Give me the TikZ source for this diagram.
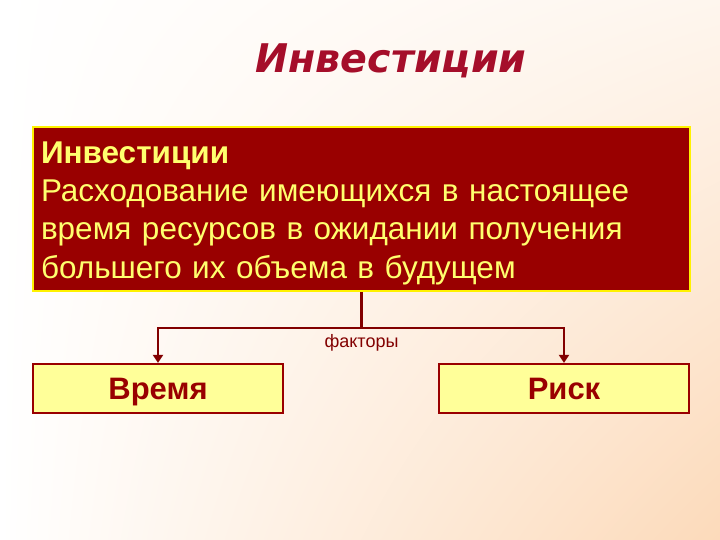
\documentclass[tikz,border=0pt]{standalone}
\usepackage{fontspec}
\usepackage{xcolor}
\usetikzlibrary{positioning,arrows.meta,shadings}
\setmainfont{Liberation Sans}
\newfontfamily\titlefont{DejaVu Sans}
\definecolor{titlered}{RGB}{165,14,42}
\definecolor{boxred}{RGB}{153,0,0}
\definecolor{linered}{RGB}{130,0,0}
\definecolor{paleyellow}{RGB}{255,255,153}
\definecolor{textyellow}{RGB}{255,255,110}
\definecolor{peach}{RGB}{252,218,186}
\tikzset{
	title/.style={font=\titlefont\bfseries\itshape\fontsize{39.5}{44}\selectfont,text=titlered},%
	defnbox/.style={draw=yellow,line width=2.5pt,fill=boxred,text=textyellow,
		minimum width=657pt,minimum height=164pt,text width=641pt,inner xsep=8pt,
		align=left,font=\fontsize{31.5}{38.3}\selectfont},%
	factorbox/.style={draw=boxred,line width=2.2pt,fill=paleyellow,text=boxred,
		minimum width=250pt,minimum height=49pt,text height=22pt,text depth=0pt,
		font=\bfseries\fontsize{31}{34}\selectfont},%
	link/.style={draw=linered,line width=2.8pt},%
	arrowlink/.style={link,-{Triangle[width=10pt,length=8pt]}},%
	linklabel/.style={text=linered,font=\fontsize{18}{20}\selectfont},%
}
\def\forky{328}
\begin{document}
\begin{tikzpicture}[x=1pt,y=-1pt]
	\shade[upper left=white,lower left=white,upper right=peach!25,lower right=peach]
		(0,0) rectangle (720,540);
	\useasboundingbox (0,0) rectangle (720,540);
	\node[title] (head) at (391,61) {Инвестиции};
	\node[defnbox] (defn) at (361.5,209) {\rule{0pt}{30pt}\textbf{Инвестиции}\\
		Расходование имеющихся в настоящее\\
		время ресурсов в ожидании получения\\
		большего их объема в будущем};
	\node[factorbox] (time) at (158,388.5) {Время};
	\node[factorbox] (risk) at (564,388.5) {Риск};
	\coordinate (fork) at (defn.south |- 0,\forky);
	\node[linklabel,below=3pt of fork] (factors) {факторы};
	\draw[link] (defn.south) -- (fork);
	\draw[arrowlink] (fork) -| (time.north);
	\draw[arrowlink] (fork) -| (risk.north);
\end{tikzpicture}
\end{document}
